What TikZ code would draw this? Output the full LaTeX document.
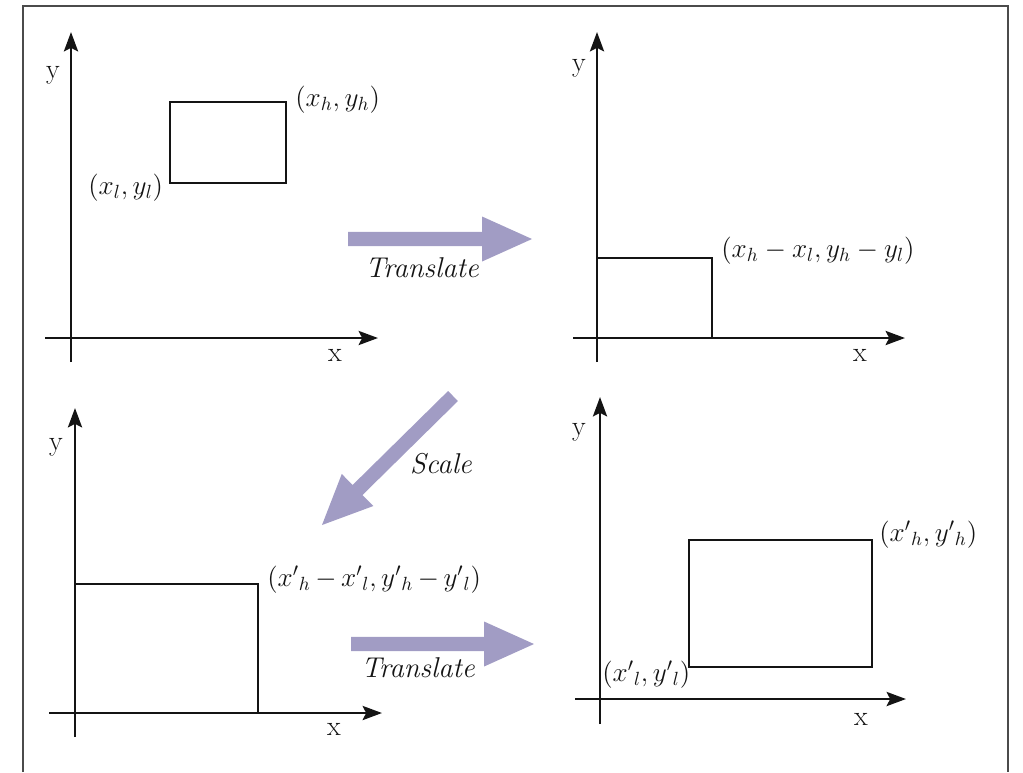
\documentclass[tikz,border=0pt]{standalone}
\usepackage{fix-cm}
\usetikzlibrary{arrows.meta,calc}
\definecolor{fatc}{RGB}{161,156,196}
\definecolor{ink}{RGB}{20,20,20}
\definecolor{framec}{RGB}{75,75,75}
\newcommand{\fatarrow}[2]{%
  \fill[fatc] ($(#1)!4pt!90:(#2)$) -- ($($(#2)!28.4pt!(#1)$)!4pt!90:(#2)$)
    -- ($($(#2)!28.4pt!(#1)$)!12.8pt!90:(#2)$) -- (#2)
    -- ($($(#2)!28.4pt!(#1)$)!12.8pt!-90:(#2)$)
    -- ($($(#2)!28.4pt!(#1)$)!4pt!-90:(#2)$)
    -- ($(#1)!4pt!-90:(#2)$) -- cycle;}
\tikzset{
  axisline/.style={draw=ink, line width=1.6pt, -{Stealth[length=11pt,width=8pt,inset=2pt]}},
  boxline/.style={draw=ink, line width=1.1pt},
  lbl/.style={font=\fontsize{15.5}{18}\selectfont, inner sep=0pt, text=ink},
  axlbl/.style={font=\fontsize{16}{19}\selectfont, inner sep=0pt, text=ink},
  oplbl/.style={font=\fontsize{16.3}{19}\selectfont\itshape, inner sep=0pt, text=ink},
}
\begin{document}
\begin{tikzpicture}[x=0.02cm,y=-0.02cm]
\useasboundingbox (0,0) rectangle (1023,772);
% frame
\coordinate (fbl) at (23,772); \coordinate (ftl) at (23,6);
\coordinate (ftr) at (1008,6); \coordinate (fbr) at (1008,772);
\draw[framec, line width=1.1pt] (fbl) -- (ftl) -- (ftr) -- (fbr);

% ---------- panel 1 ----------
\coordinate (y1s) at (71,362); \coordinate (y1e) at (71,32);
\coordinate (x1s) at (45,338); \coordinate (x1e) at (378,338);
\draw[axisline] (y1s) -- (y1e);
\draw[axisline] (x1s) -- (x1e);
\node[axlbl] (ylab1) at (53,75) {y};
\node[axlbl] (xlab1) at (335,355) {x};
\coordinate (r1l) at (170,183); \coordinate (r1h) at (286,102);
\draw[boxline] (r1l) rectangle (r1h);
\node[lbl, anchor=west] (l1h) at (295,100) {$(x_h, y_h)$};
\node[lbl, anchor=west] (l1l) at (88,188) {$(x_l, y_l)$};

% ---------- panel 2 ----------
\coordinate (y2s) at (597,362); \coordinate (y2e) at (597,32);
\coordinate (x2s) at (573,338); \coordinate (x2e) at (905,338);
\draw[axisline] (y2s) -- (y2e);
\draw[axisline] (x2s) -- (x2e);
\node[axlbl] (ylab2) at (579,68) {y};
\node[axlbl] (xlab2) at (860,355) {x};
\coordinate (r2l) at (597,338); \coordinate (r2h) at (712,258);
\draw[boxline] (r2l) rectangle (r2h);
\node[lbl, anchor=west] (l2) at (721,251) {$(x_h - x_l, y_h - y_l)$};

% ---------- panel 3 ----------
\coordinate (y3s) at (75,737); \coordinate (y3e) at (75,408);
\coordinate (x3s) at (49,713); \coordinate (x3e) at (382,713);
\draw[axisline] (y3s) -- (y3e);
\draw[axisline] (x3s) -- (x3e);
\node[axlbl] (ylab3) at (56,447) {y};
\node[axlbl] (xlab3) at (334,729) {x};
\coordinate (r3l) at (75,713); \coordinate (r3h) at (258,584);
\draw[boxline] (r3l) rectangle (r3h);
\node[lbl, anchor=west] (l3) at (267,580) {$(x'{}_h \,{-}\, x'{}_l, y'{}_h \,{-}\, y'{}_l)$};

% ---------- panel 4 ----------
\coordinate (y4s) at (600,724); \coordinate (y4e) at (600,397);
\coordinate (x4s) at (575,699); \coordinate (x4e) at (906,699);
\draw[axisline] (y4s) -- (y4e);
\draw[axisline] (x4s) -- (x4e);
\node[axlbl] (ylab4) at (579,432) {y};
\node[axlbl] (xlab4) at (861,719) {x};
\coordinate (r4l) at (689,667); \coordinate (r4h) at (872,540);
\draw[boxline] (r4l) rectangle (r4h);
\node[lbl, anchor=west] (l4h) at (879,535) {$(x'{}_h, y'{}_h)$};
\node[lbl, anchor=west] (l4l) at (602,675) {$(x'{}_l, y'{}_l)$};

% ---------- operation arrows ----------
\coordinate (t1s) at (348,239); \coordinate (t1e) at (532,239);
\fatarrow{t1s}{t1e}
\node[oplbl] (t1lab) at (422,268) {Translate};

\coordinate (s1s) at (453,396); \coordinate (s1e) at (322,525);
\fatarrow{s1s}{s1e}
\node[oplbl] (s1lab) at (441,464) {Scale};

\coordinate (t2s) at (351,644); \coordinate (t2e) at (534,644);
\fatarrow{t2s}{t2e}
\node[oplbl] (t2lab) at (418,668) {Translate};
\end{tikzpicture}
\end{document}
